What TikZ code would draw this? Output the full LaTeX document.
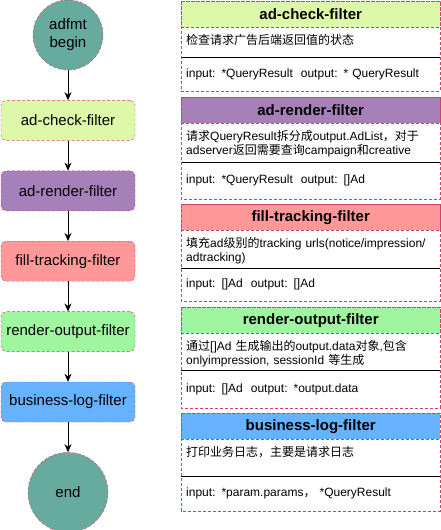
\documentclass[tikz,border=0pt]{standalone}
\usepackage{fontspec}
\setmainfont{Liberation Sans}
\newfontfamily\cjk{Noto Sans CJK SC}
\usetikzlibrary{positioning,arrows.meta}

\definecolor{tealc}{HTML}{67AB9F}
\definecolor{checkc}{HTML}{DDF8A8}
\definecolor{renderc}{HTML}{A680B8}
\definecolor{trackc}{HTML}{FF9999}
\definecolor{outputc}{HTML}{A0F5A0}
\definecolor{logc}{HTML}{66B2FF}
\definecolor{dashc}{HTML}{D0406A}

% one filter card: name, top, colour, title, description, description height, io text, io height
\newcommand{\filtercard}[8]{%
    \node[cardhead, fill=#3, anchor=north west] (#1-head) at (181,#2) {#4};
    \node[carddesc, anchor=north west] (#1-desc) at (#1-head.south west) {#5};
    \coordinate (#1-sep) at ([yshift=-#6pt]#1-head.south west);
    \node[cardio, minimum height=#8pt, anchor=north west] (#1-io) at (#1-sep) {#7};
    \draw[line width=0.8pt] (#1-sep) -- ++(259,0);
    \draw[cardline] (#1-head.north west) rectangle (#1-io.south east);
}

\begin{document}
\begin{tikzpicture}[
    x=1pt, y=-1pt,
    node distance=30pt,
    terminal/.style={
        circle,
        draw=dashc,
        dash pattern=on 3pt off 2pt,
        fill=tealc,
        minimum size=70pt,
        inner sep=0pt,
        align=center,
        font=\fontsize{15}{18}\selectfont
    },
    filterbox/.style={
        draw=dashc,
        dash pattern=on 3pt off 2pt,
        rounded corners=5pt,
        minimum width=134pt,
        minimum height=40pt,
        font=\fontsize{15}{18}\selectfont
    },
    flow/.style={-{Stealth[length=8pt,width=7pt]}, line width=0.8pt},
    cardhead/.style={
        draw=dashc,
        dash pattern=on 3pt off 2pt,
        minimum width=259pt,
        minimum height=26pt,
        inner sep=0pt,
        font=\fontsize{15}{18}\selectfont\bfseries
    },
    carddesc/.style={
        text width=249pt,
        inner xsep=5pt,
        inner ysep=7pt,
        align=left,
        font=\fontsize{12}{14}\selectfont
    },
    cardio/.style={
        text width=249pt,
        inner xsep=5pt,
        inner ysep=0pt,
        align=left,
        font=\fontsize{12}{14}\selectfont
    },
    cardline/.style={draw=dashc, dash pattern=on 3pt off 2pt}
]
\useasboundingbox (0,0) rectangle (441,530);

% flow of the filters
\node[terminal] (begin) at (68,35) {adfmt\\begin};
\node[filterbox, fill=checkc, below=of begin] (check) {ad-check-filter};
\node[filterbox, fill=renderc, below=of check] (render) {ad-render-filter};
\node[filterbox, fill=trackc, below=of render] (track) {fill-tracking-filter};
\node[filterbox, fill=outputc, below=of track] (output) {render-output-filter};
\node[filterbox, fill=logc, below=of output] (log) {business-log-filter};
\node[terminal, minimum size=80pt, below=of log] (end) {end};

\draw[flow] (begin) -- (check);
\draw[flow] (check) -- (render);
\draw[flow] (render) -- (track);
\draw[flow] (track) -- (output);
\draw[flow] (output) -- (log);
\draw[flow] (log) -- (end);

% cards
\filtercard{checkcard}{1}{checkc}{ad-check-filter}
    {{\cjk 检查请求广告后端返回值的状态}}{30}
    {input: *QueryResult\ \ output: * QueryResult}{33}
\filtercard{rendercard}{97}{renderc}{ad-render-filter}
    {{\cjk 请求}QueryResult{\cjk 拆分成}output.AdList{\cjk ，对于}\\adserver{\cjk 返回需要查询}campaign{\cjk 和}creative}{39}
    {input: *QueryResult\ \ output: []Ad}{36}
\filtercard{trackcard}{204}{trackc}{fill-tracking-filter}
    {{\cjk 填充}ad{\cjk 级别的}tracking urls(notice/impression/\\adtracking)}{38}
    {input: []Ad\ \ output: []Ad}{32}
\filtercard{outputcard}{307}{outputc}{render-output-filter}
    {{\cjk 通过}[]Ad {\cjk 生成输出的}output.data{\cjk 对象},{\cjk 包含}\\onlyimpression, sessionId {\cjk 等生成}}{37}
    {input: []Ad\ \ output: *output.data}{37}
\filtercard{logcard}{413}{logc}{business-log-filter}
    {{\cjk 打印业务日志，主要是请求日志}}{37}
    {input: *param.params{\cjk ，} *QueryResult}{34}
\end{tikzpicture}
\end{document}
